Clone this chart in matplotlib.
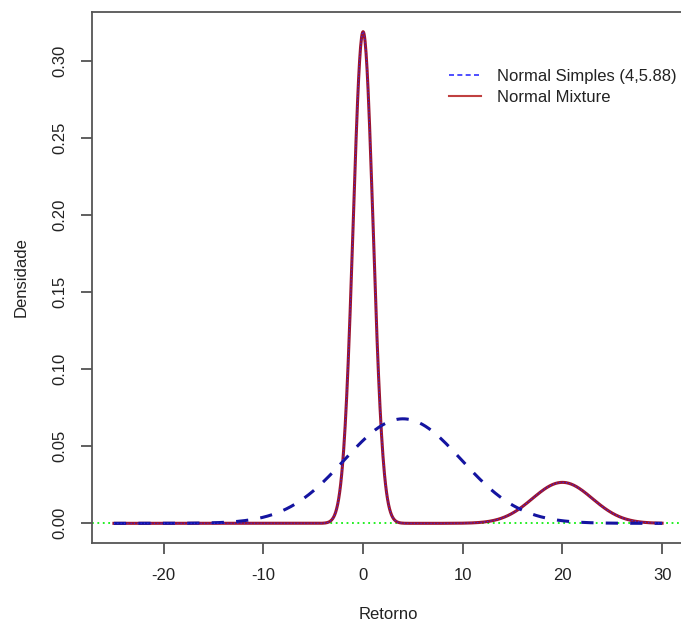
import numpy as np
import matplotlib
matplotlib.use("Agg")
import matplotlib.pyplot as plt

# normal simples (media, desvio) -- as in the legend
simple_mean = 4.0
simple_sd = 5.88

# mixture components: peaks at 0 (~0.319) and 20 (~0.027)
mix_weights = [0.8, 0.2]
mix_means = [0.0, 20.0]
mix_sds = [1.0, 3.0]

x_range = [-25, 30]
x_ticks = [-20, -10, 0, 10, 20, 30]
y_ticks = [0.00, 0.05, 0.10, 0.15, 0.20, 0.25, 0.30]
legend_labels = ["Normal Simples (4,5.88)", "Normal Mixture"]


def dnorm(x, m, s):
    return np.exp(-0.5 * ((x - m) / s) ** 2) / (s * np.sqrt(2 * np.pi))


def main():
    plt.rcParams['font.family'] = ['Liberation Sans', 'DejaVu Sans']
    plt.rcParams['axes.unicode_minus'] = False
    txt = "#222222"

    x = np.linspace(x_range[0], x_range[1], 1101)
    simple = dnorm(x, simple_mean, simple_sd)
    mix = np.zeros_like(x)
    for w, m, s in zip(mix_weights, mix_means, mix_sds):
        mix += w * dnorm(x, m, s)

    fig = plt.figure(figsize=(6.81, 6.22), dpi=100)
    ax = fig.add_axes([92 / 681, 79 / 622, 592 / 681, 531 / 622])

    ax.axhline(0, color="#11ee11", lw=1.3, ls=(0, (1, 2)), zorder=1)
    ax.plot(x, simple, color="#1414a0", lw=2.2, ls=(0, (4, 4)), zorder=3)
    ax.plot(x, mix, color="#9c1430", lw=2.2, zorder=2)
    ax.plot(x, mix, color="#2a2aff", lw=0.8, ls=(0, (1, 2)), zorder=4)

    # R style legend, no box
    h1, = ax.plot([], [], color="#3030ff", lw=1.2, ls=(0, (3, 2)))
    h2, = ax.plot([], [], color="#c04040", lw=1.5)
    ax.legend([h1, h2], legend_labels, loc="upper left",
              bbox_to_anchor=(0.603, 0.893), frameon=False, fontsize=12,
              borderpad=0, borderaxespad=0,
              handlelength=1.95, handletextpad=0.95, labelspacing=0.35,
              labelcolor=txt)

    span = x_range[1] - x_range[0]
    ax.set_xlim(x_range[0] - 0.04 * span, x_range[1] + 0.04 * span)
    ymax = mix.max()
    ax.set_ylim(-0.04 * ymax, ymax * 1.04)

    ax.set_xticks(x_ticks)
    ax.set_yticks(y_ticks)
    ax.set_yticklabels(["%.2f" % v for v in y_ticks], rotation=90, va="center")
    ax.tick_params(axis="both", length=8, width=1.2, color="#444444",
                   labelsize=12, labelcolor=txt, pad=10)

    for s in ax.spines.values():
        s.set_color("#555555")
        s.set_linewidth(1.3)

    ax.set_xlabel("Retorno", fontsize=12, color=txt, labelpad=17)
    ax.set_ylabel("Densidade", fontsize=12, color=txt, labelpad=17)

    fig.savefig("out.png", dpi=100)


if __name__ == "__main__":
    main()
